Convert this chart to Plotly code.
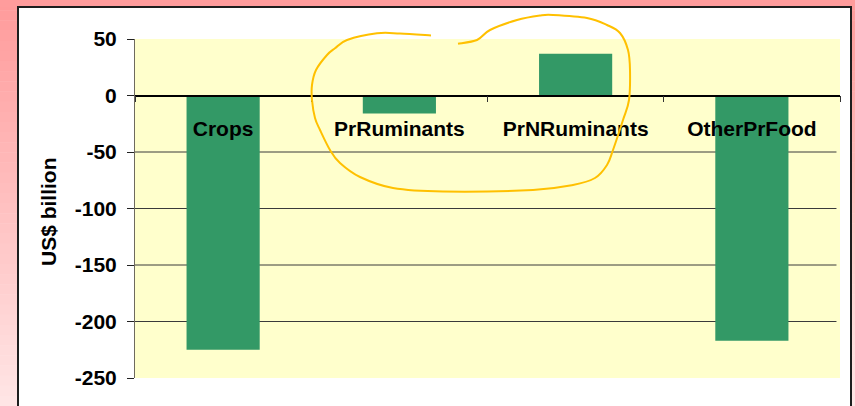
import plotly.graph_objects as go

# ---- data -------------------------------------------------------------
categories = ["Crops", "PrRuminants", "PrNRuminants", "OtherPrFood"]
values = [-225, -16, 37, -217]
y_ticks = [50, 0, -50, -100, -150, -200, -250]
grid_vals = [-50, -100, -150, -200]

# ---- page geometry ----------------------------------------------------
FIG_W, FIG_H = 855, 406
M_L, M_R, M_T, M_B = 135, 15, 39, 28
PW = FIG_W - M_L - M_R
PH = FIG_H - M_T - M_B


def px(x):
    """pixel column -> paper x"""
    return (x - M_L) / PW


def py(y):
    """pixel row -> paper y"""
    return (FIG_H - M_B - y) / PH


FONT = "Liberation Sans, Arial, sans-serif"
BAR_GREEN = "#339966"
PLOT_YELLOW = "#FFFFCC"

fig = go.Figure()
fig.add_trace(go.Bar(
    x=categories, y=values, width=0.415,
    marker=dict(color=BAR_GREEN, line=dict(width=0)),
    hoverinfo="x+y",
))

shapes = []

# pink gradient frame around the white panel
top_rgb = (255, 154, 154)
bot_rgb = (255, 230, 230)
steps = 40
for i in range(steps):
    y0 = FIG_H * i / steps
    y1 = FIG_H * (i + 1) / steps + 0.5
    t = (i + 0.5) / steps
    c = tuple(round(a + (b - a) * t) for a, b in zip(top_rgb, bot_rgb))
    col = "rgb(%d,%d,%d)" % c
    for x0, x1 in ((0, 18), (851, FIG_W)):
        shapes.append(dict(type="rect", xref="paper", yref="paper",
                           x0=px(x0), x1=px(x1), y0=py(y1), y1=py(y0),
                           fillcolor=col, line=dict(width=0), layer="below"))
shapes.append(dict(type="rect", xref="paper", yref="paper",
                   x0=px(0), x1=px(FIG_W), y0=py(7), y1=py(0),
                   fillcolor="rgb(255,156,156)", line=dict(width=0), layer="below"))
# panel border
shapes.append(dict(type="rect", xref="paper", yref="paper",
                   x0=px(18), x1=px(851), y0=py(FIG_H + 10), y1=py(7),
                   fillcolor="rgba(0,0,0,0)", line=dict(color="#1e1e1e", width=2),
                   layer="below"))

# horizontal gridlines behind the bars
for g in grid_vals:
    shapes.append(dict(type="line", xref="paper", yref="y",
                       x0=0, x1=0.995, y0=g, y1=g,
                       line=dict(color="#3a3a3a", width=1), layer="below"))

# hand-drawn highlight loop around the two livestock bars
loop = [(431, 35.5), (400, 33.5), (377, 33.3), (347, 40), (335, 48.3),
        (327, 55), (316, 70), (312, 85), (312, 100), (315, 118), (320, 130),
        (330, 150), (340, 163), (360, 177), (393, 188), (443, 191.5),
        (533, 190), (573, 185), (595, 178), (607, 165), (613, 150),
        (623, 120), (629, 100), (630, 70), (628, 50), (620, 33), (607, 25),
        (587, 18), (553, 15), (540, 15.5), (517, 20), (490, 30),
        (477, 40), (458, 43.7)]


def smooth_path(pts):
    p = [(px(x), py(y)) for x, y in pts]
    d = "M %.5f,%.5f" % p[0]
    for i in range(len(p) - 1):
        p0 = p[i - 1] if i > 0 else p[i]
        p1, p2 = p[i], p[i + 1]
        p3 = p[i + 2] if i + 2 < len(p) else p[i + 1]
        c1 = (p1[0] + (p2[0] - p0[0]) / 6, p1[1] + (p2[1] - p0[1]) / 6)
        c2 = (p2[0] - (p3[0] - p1[0]) / 6, p2[1] - (p3[1] - p1[1]) / 6)
        d += " C %.5f,%.5f %.5f,%.5f %.5f,%.5f" % (c1 + c2 + p2)
    return d


shapes.append(dict(type="path", xref="paper", yref="paper",
                   path=smooth_path(loop),
                   line=dict(color="#FFC000", width=2), layer="above"))

fig.update_layout(
    width=FIG_W, height=FIG_H,
    margin=dict(l=M_L, r=M_R, t=M_T, b=M_B, pad=0),
    paper_bgcolor="white",
    plot_bgcolor=PLOT_YELLOW,
    showlegend=False,
    bargap=0.585,
    shapes=shapes,
    font=dict(family=FONT, color="black"),
    xaxis=dict(
        type="category",
        anchor="free",
        position=(0 - (-250)) / (50 - (-250)),
        showline=True, linecolor="black", linewidth=1.5,
        ticks="outside", tickson="boundaries", ticklen=6,
        tickcolor="#333", tickwidth=1,
        showgrid=False,
        tickfont=dict(family=FONT, size=21, color="black", weight="bold"),
        ticklabelstandoff=15,
        range=[-0.5, 3.5],
        fixedrange=True,
    ),
    yaxis=dict(
        range=[-250, 50],
        tickvals=y_ticks,
        ticktext=[str(v) for v in y_ticks],
        showgrid=False, zeroline=False,
        showline=True, linecolor="#6e6a5e", linewidth=1,
        ticks="outside", ticklen=7, tickcolor="#222", tickwidth=1,
        tickfont=dict(family=FONT, size=21, color="black", weight="bold"),
        ticklabelstandoff=6,
        fixedrange=True,
    ),
    annotations=[dict(
        text="US$ billion", xref="paper", yref="paper",
        x=px(48), y=py(212), xanchor="center", yanchor="middle",
        textangle=-90, showarrow=False,
        font=dict(family=FONT, size=21, color="black", weight="bold"),
    )],
)

fig.write_html("out.html")
